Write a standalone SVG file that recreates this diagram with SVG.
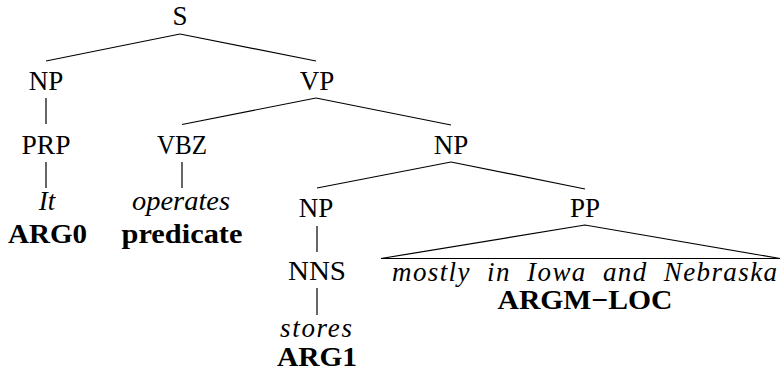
<svg xmlns="http://www.w3.org/2000/svg" width="781" height="374" viewBox="0 0 781 374" font-family="Liberation Serif, Times New Roman, DejaVu Serif, serif">
<style>
text{font-size:27px;fill:#000;text-anchor:middle}
.it{font-style:italic}
.b{font-weight:bold}
.e{stroke:#000;stroke-width:1.2;fill:none}
</style>
<rect width="781" height="374" fill="#fff"/>
<g id="connectors">
<line class="e" x1="180" y1="34" x2="46" y2="61"/>
<line class="e" x1="180" y1="34" x2="316" y2="61"/>
<line class="e" x1="46" y1="98" x2="46" y2="124"/>
<line class="e" x1="46" y1="162" x2="46" y2="188"/>
<line class="e" x1="316" y1="98" x2="182" y2="124.5"/>
<line class="e" x1="316" y1="98" x2="451" y2="125"/>
<line class="e" x1="182" y1="162" x2="182" y2="188"/>
<line class="e" x1="451" y1="162" x2="317" y2="188"/>
<line class="e" x1="451" y1="162" x2="585" y2="189"/>
<line class="e" x1="317" y1="226" x2="317" y2="252"/>
<line class="e" x1="317" y1="288" x2="317" y2="315"/>
<polygon class="e" points="585,225 381,258.5 780,258.5"/>
</g>
<g id="S"><text x="180" y="25">S</text></g>
<g id="NP1"><text x="46" y="90">NP</text></g>
<g id="VP"><text x="317" y="90">VP</text></g>
<g id="PRP"><text x="46" y="154" textLength="49" lengthAdjust="spacingAndGlyphs">PRP</text></g>
<g id="VBZ"><text x="182" y="154" textLength="50" lengthAdjust="spacingAndGlyphs">VBZ</text></g>
<g id="NP2"><text x="451" y="154">NP</text></g>
<g id="It">
<text class="it" x="47" y="210">It</text>
<text class="b" x="47.5" y="243" textLength="79" lengthAdjust="spacingAndGlyphs">ARG0</text>
</g>
<g id="operates">
<text class="it" x="181" y="210" textLength="98" lengthAdjust="spacingAndGlyphs">operates</text>
<text class="b" x="182" y="243" textLength="121" lengthAdjust="spacingAndGlyphs">predicate</text>
</g>
<g id="NP3"><text x="316" y="217">NP</text></g>
<g id="PP"><text x="585" y="217">PP</text></g>
<g id="NNS"><text x="317" y="280" textLength="58" lengthAdjust="spacingAndGlyphs">NNS</text></g>
<g id="stores">
<text class="it" x="316" y="337" textLength="72" lengthAdjust="spacing">stores</text>
<text class="b" x="317" y="366" textLength="80" lengthAdjust="spacingAndGlyphs">ARG1</text>
</g>
<g id="PP-yield">
<text class="it" x="584.5" y="281" textLength="385" lengthAdjust="spacing" xml:space="preserve">mostly  in  Iowa  and  Nebraska</text>
<text class="b" x="585" y="309" textLength="175" lengthAdjust="spacingAndGlyphs">ARGM−LOC</text>
</g>
</svg>
